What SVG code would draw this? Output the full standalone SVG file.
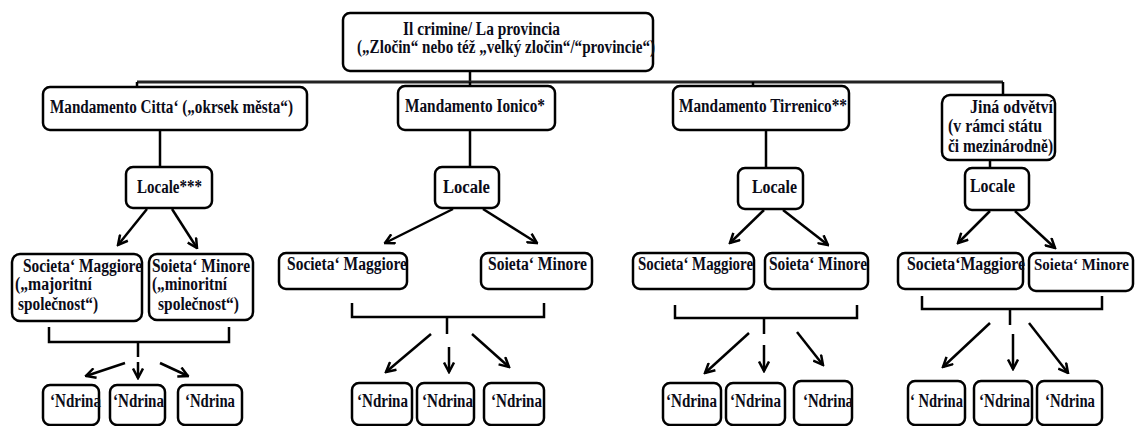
<svg xmlns="http://www.w3.org/2000/svg" width="1139" height="426" viewBox="0 0 1139 426">
<style>
.box{fill:#fff;stroke:#000;stroke-width:2.5}
.t{font-family:"Liberation Serif","Times New Roman",serif;font-weight:bold;font-size:18px;fill:#0b0b18}
.c{fill:none;stroke:#000;stroke-width:2.5}
.a{fill:none;stroke:#000;stroke-width:2.5;marker-end:url(#arr)}
.bar{fill:none;stroke:#222;stroke-width:3}
</style>
<defs>
<marker id="arr" viewBox="0 0 12 12" refX="10.5" refY="6" markerWidth="12" markerHeight="12" markerUnits="userSpaceOnUse" orient="auto">
<path d="M1,1 L10.5,6 L1,11" fill="none" stroke="#000" stroke-width="2.5"/>
</marker>
</defs>
<g id="connectors">
<path class="c" d="M470,71 V82"/>
<path class="bar" d="M137,82 H1003"/>
<path class="c" d="M137,82 V87 M470,82 V86 M753,82 V86 M1003,82 V95"/>
<path class="c" d="M160,130 V167 M470,130 V167 M766,130 V168 M990,160 V168"/>
<line class="a" x1="147" y1="209" x2="118" y2="245"/>
<line class="a" x1="172" y1="209" x2="197" y2="248"/>
<line class="a" x1="453" y1="209" x2="385" y2="243"/>
<line class="a" x1="483" y1="209" x2="537" y2="243"/>
<line class="a" x1="764" y1="210" x2="730" y2="243"/>
<line class="a" x1="783" y1="210" x2="828" y2="245"/>
<line class="a" x1="990" y1="211" x2="958" y2="243"/>
<line class="a" x1="1015" y1="211" x2="1055" y2="248"/>
<path class="c" d="M49,327 V342 H229 V327 M138,342 V357"/>
<path class="c" d="M352,303 V317 H544 V303 M447,317 V334"/>
<path class="c" d="M675,305 V318 H857 V305 M764,318 V334"/>
<path class="c" d="M922,296 V309 H1102 V296 M1010,309 V325"/>
<line class="a" x1="125" y1="363" x2="86" y2="376"/>
<line class="a" x1="138" y1="362" x2="138" y2="378"/>
<line class="a" x1="160" y1="363" x2="188" y2="376"/>
<line class="a" x1="431" y1="334" x2="386" y2="372"/>
<line class="a" x1="449" y1="347" x2="449" y2="372"/>
<line class="a" x1="472" y1="334" x2="509" y2="367"/>
<line class="a" x1="749" y1="333" x2="705" y2="373"/>
<line class="a" x1="764" y1="345" x2="764" y2="371"/>
<line class="a" x1="797" y1="332" x2="823" y2="365"/>
<line class="a" x1="990" y1="323" x2="943" y2="367"/>
<line class="a" x1="1013" y1="334" x2="1013" y2="369"/>
<line class="a" x1="1029" y1="323" x2="1068" y2="373"/>
</g>
<g id="root">
<rect class="box" x="343" y="13" width="310" height="58" rx="7"/>
<text class="t" x="403" y="35" textLength="157" lengthAdjust="spacingAndGlyphs">Il crimine/ La provincia</text>
<text class="t" x="357" y="53" textLength="298" lengthAdjust="spacingAndGlyphs">(„Zločin“ nebo též „velký zločin“/“provincie“)</text>
</g>
<g id="mand-citta">
<rect class="box" x="43" y="87" width="264" height="43" rx="7"/>
<text class="t" x="50" y="113" textLength="243" lengthAdjust="spacingAndGlyphs">Mandamento Citta‘ („okrsek města“)</text>
</g>
<g id="mand-ionico">
<rect class="box" x="398" y="86" width="157" height="44" rx="7"/>
<text class="t" x="405" y="112" textLength="140" lengthAdjust="spacingAndGlyphs">Mandamento Ionico*</text>
</g>
<g id="mand-tirrenico">
<rect class="box" x="673" y="86" width="176" height="44" rx="7"/>
<text class="t" x="679" y="112" textLength="168" lengthAdjust="spacingAndGlyphs">Mandamento Tirrenico**</text>
</g>
<g id="jina">
<rect class="box" x="942" y="95" width="113" height="65" rx="8"/>
<text class="t" x="970" y="113" textLength="83" lengthAdjust="spacingAndGlyphs">Jiná odvětví</text>
<text class="t" x="948" y="132" textLength="94" lengthAdjust="spacingAndGlyphs">(v rámci státu</text>
<text class="t" x="948" y="152" textLength="105" lengthAdjust="spacingAndGlyphs">či mezinárodně)</text>
</g>
<g id="locale-1">
<rect class="box" x="126" y="167" width="86" height="41" rx="7"/>
<text class="t" x="137" y="193" textLength="65" lengthAdjust="spacingAndGlyphs">Locale***</text>
</g>
<g id="locale-2">
<rect class="box" x="435" y="167" width="64" height="41" rx="7"/>
<text class="t" x="443" y="193" textLength="47" lengthAdjust="spacingAndGlyphs">Locale</text>
</g>
<g id="locale-3">
<rect class="box" x="738" y="168" width="65" height="41" rx="7"/>
<text class="t" x="752" y="193" textLength="45" lengthAdjust="spacingAndGlyphs">Locale</text>
</g>
<g id="locale-4">
<rect class="box" x="965" y="168" width="64" height="42" rx="7"/>
<text class="t" x="970" y="192" textLength="45" lengthAdjust="spacingAndGlyphs">Locale</text>
</g>
<g id="maggiore-1">
<rect class="box" x="12" y="254" width="130" height="67" rx="8"/>
<text class="t" x="23" y="272" textLength="119" lengthAdjust="spacingAndGlyphs">Societa‘ Maggiore</text>
<text class="t" x="15" y="290" textLength="77" lengthAdjust="spacingAndGlyphs">(„majoritní</text>
<text class="t" x="18" y="310" textLength="80" lengthAdjust="spacingAndGlyphs">společnost“)</text>
</g>
<g id="minore-1">
<rect class="box" x="149" y="254" width="104" height="66" rx="8"/>
<text class="t" x="152" y="272" textLength="98" lengthAdjust="spacingAndGlyphs">Soieta‘ Minore</text>
<text class="t" x="152" y="290" textLength="75" lengthAdjust="spacingAndGlyphs">(„minoritní</text>
<text class="t" x="158" y="310" textLength="81" lengthAdjust="spacingAndGlyphs">společnost“)</text>
</g>
<g id="maggiore-2">
<rect class="box" x="279" y="253" width="128" height="36" rx="7"/>
<text class="t" x="287" y="270" textLength="120" lengthAdjust="spacingAndGlyphs">Societa‘ Maggiore</text>
</g>
<g id="minore-2">
<rect class="box" x="481" y="253" width="111" height="36" rx="7"/>
<text class="t" x="488" y="270" textLength="99" lengthAdjust="spacingAndGlyphs">Soieta‘ Minore</text>
</g>
<g id="maggiore-3">
<rect class="box" x="633" y="253" width="121" height="36" rx="7"/>
<text class="t" x="638" y="270" textLength="115" lengthAdjust="spacingAndGlyphs">Societa‘ Maggiore</text>
</g>
<g id="minore-3">
<rect class="box" x="765" y="253" width="103" height="36" rx="7"/>
<text class="t" x="769" y="270" textLength="98" lengthAdjust="spacingAndGlyphs">Soieta‘ Minore</text>
</g>
<g id="maggiore-4">
<rect class="box" x="898" y="253" width="125" height="36" rx="7"/>
<text class="t" x="907" y="270" textLength="118" lengthAdjust="spacingAndGlyphs">Societa‘Maggiore</text>
</g>
<g id="minore-4">
<rect class="box" x="1029" y="253" width="104" height="38" rx="7"/>
<text class="t" x="1034" y="270" style="font-size:16px" textLength="95" lengthAdjust="spacingAndGlyphs">Soieta‘ Minore</text>
</g>
<g id="ndrina-1a"><rect class="box" x="43" y="385" width="56" height="40" rx="7"/><text class="t" x="50" y="407" textLength="51" lengthAdjust="spacingAndGlyphs">‘Ndrina</text></g>
<g id="ndrina-1b"><rect class="box" x="110" y="385" width="55" height="40" rx="7"/><text class="t" x="113" y="407" textLength="51" lengthAdjust="spacingAndGlyphs">‘Ndrina</text></g>
<g id="ndrina-1c"><rect class="box" x="178" y="385" width="64" height="40" rx="7"/><text class="t" x="185" y="407" textLength="50" lengthAdjust="spacingAndGlyphs">‘Ndrina</text></g>
<g id="ndrina-2a"><rect class="box" x="352" y="383" width="60" height="42" rx="7"/><text class="t" x="357" y="407" textLength="51" lengthAdjust="spacingAndGlyphs">‘Ndrina</text></g>
<g id="ndrina-2b"><rect class="box" x="417" y="383" width="57" height="42" rx="7"/><text class="t" x="422" y="407" textLength="51" lengthAdjust="spacingAndGlyphs">‘Ndrina</text></g>
<g id="ndrina-2c"><rect class="box" x="484" y="383" width="60" height="42" rx="7"/><text class="t" x="491" y="407" textLength="51" lengthAdjust="spacingAndGlyphs">‘Ndrina</text></g>
<g id="ndrina-3a"><rect class="box" x="663" y="383" width="58" height="42" rx="7"/><text class="t" x="666" y="407" textLength="51" lengthAdjust="spacingAndGlyphs">‘Ndrina</text></g>
<g id="ndrina-3b"><rect class="box" x="726" y="383" width="59" height="42" rx="7"/><text class="t" x="730" y="407" textLength="51" lengthAdjust="spacingAndGlyphs">‘Ndrina</text></g>
<g id="ndrina-3c"><rect class="box" x="794" y="381" width="58" height="44" rx="7"/><text class="t" x="803" y="407" textLength="50" lengthAdjust="spacingAndGlyphs">‘Ndrina</text></g>
<g id="ndrina-4a"><rect class="box" x="908" y="381" width="57" height="44" rx="7"/><text class="t" x="910" y="407" textLength="53" lengthAdjust="spacingAndGlyphs">‘ Ndrina</text></g>
<g id="ndrina-4b"><rect class="box" x="974" y="381" width="58" height="44" rx="7"/><text class="t" x="979" y="407" textLength="51" lengthAdjust="spacingAndGlyphs">‘Ndrina</text></g>
<g id="ndrina-4c"><rect class="box" x="1037" y="381" width="65" height="44" rx="7"/><text class="t" x="1045" y="407" textLength="50" lengthAdjust="spacingAndGlyphs">‘Ndrina</text></g>
</svg>
